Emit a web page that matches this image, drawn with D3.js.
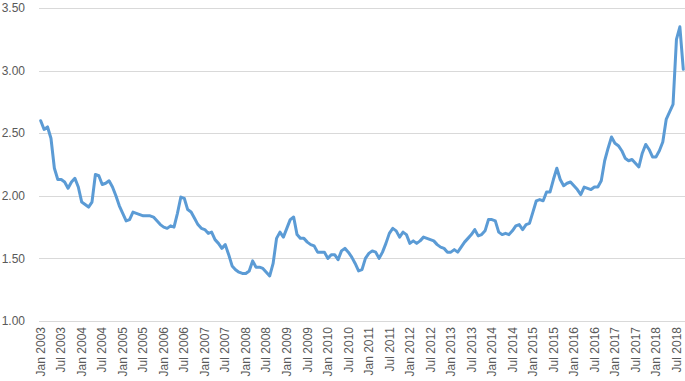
<!DOCTYPE html>
<html>
<head>
<meta charset="utf-8">
<script src="https://cdnjs.cloudflare.com/ajax/libs/d3/7.8.5/d3.min.js"></script>
<style>
  body { margin: 0; background: #fff; }
  text { font-family: "Liberation Sans", Arial, sans-serif; fill: #595959; }
</style>
</head>
<body>
<script>
// monthly values, Jan..Dec per year (2018 ends in Sep)
var y2003 = [2.60, 2.53, 2.55, 2.46, 2.22, 2.13, 2.13, 2.11, 2.06, 2.11, 2.14, 2.07];
var y2004 = [1.95, 1.93, 1.91, 1.95, 2.17, 2.16, 2.09, 2.10, 2.12, 2.07, 2.00, 1.92];
var y2005 = [1.86, 1.80, 1.81, 1.87, 1.86, 1.85, 1.84, 1.84, 1.84, 1.83, 1.80, 1.77];
var y2006 = [1.75, 1.74, 1.76, 1.75, 1.86, 1.99, 1.98, 1.89, 1.87, 1.82, 1.77, 1.74];
var y2007 = [1.73, 1.70, 1.71, 1.65, 1.62, 1.58, 1.61, 1.53, 1.44, 1.41, 1.39, 1.38];
var y2008 = [1.38, 1.40, 1.48, 1.43, 1.43, 1.42, 1.39, 1.36, 1.46, 1.66, 1.71, 1.67];
var y2009 = [1.74, 1.81, 1.83, 1.69, 1.66, 1.66, 1.63, 1.61, 1.60, 1.55, 1.55, 1.55];
var y2010 = [1.50, 1.53, 1.53, 1.49, 1.56, 1.58, 1.55, 1.51, 1.46, 1.40, 1.41, 1.50];
var y2011 = [1.54, 1.56, 1.55, 1.50, 1.55, 1.62, 1.70, 1.74, 1.72, 1.67, 1.71, 1.69];
var y2012 = [1.62, 1.64, 1.62, 1.64, 1.67, 1.66, 1.65, 1.64, 1.61, 1.59, 1.58, 1.55];
var y2013 = [1.55, 1.57, 1.55, 1.59, 1.63, 1.66, 1.69, 1.73, 1.68, 1.69, 1.72, 1.81];
var y2014 = [1.81, 1.80, 1.71, 1.69, 1.70, 1.69, 1.72, 1.76, 1.77, 1.73, 1.77, 1.78];
var y2015 = [1.87, 1.96, 1.97, 1.96, 2.03, 2.03, 2.13, 2.22, 2.13, 2.08, 2.10, 2.11];
var y2016 = [2.08, 2.05, 2.01, 2.07, 2.06, 2.05, 2.07, 2.07, 2.12, 2.28, 2.38, 2.47];
var y2017 = [2.42, 2.40, 2.36, 2.30, 2.28, 2.29, 2.26, 2.23, 2.34, 2.41, 2.37, 2.31];
var y2018 = [2.31, 2.36, 2.43, 2.61, 2.67, 2.73, 3.25, 3.35, 3.01];

var years = d3.range(2003, 2019);
var monthNames = ["Jan","Feb","Mar","Apr","May","Jun","Jul","Aug","Sep","Oct","Nov","Dec"];
var yearValues = [y2003, y2004, y2005, y2006, y2007, y2008, y2009, y2010,
                  y2011, y2012, y2013, y2014, y2015, y2016, y2017, y2018];
var yTicks = [1.00, 1.50, 2.00, 2.50, 3.00, 3.50];

var data = [];
yearValues.forEach(function(arr, k) {
  arr.forEach(function(v, m) {
    data.push({label: monthNames[m] + " " + years[k], month: m, value: v});
  });
});

var width = 685, height = 381;
var margin = {top: 8, right: 0, bottom: 60, left: 39};

var svg = d3.select("body").append("svg")
  .attr("width", width)
  .attr("height", height);

var x = d3.scaleBand()
  .domain(data.map(function(d) { return d.label; }))
  .range([margin.left, width - margin.right]);

// 1.00 sits at y=321, 3.50 at y=8
var y = d3.scaleLinear()
  .domain([1, 3.5])
  .range([321, margin.top]);

// gridlines
svg.append("g")
  .selectAll("line")
  .data(yTicks)
  .enter().append("line")
  .attr("x1", margin.left)
  .attr("x2", width)
  .attr("y1", function(d) { return Math.round(y(d)) + 0.5; })
  .attr("y2", function(d) { return Math.round(y(d)) + 0.5; })
  .attr("stroke", "#d9d9d9")
  .attr("stroke-width", 1);

// y labels
svg.append("g")
  .selectAll("text")
  .data(yTicks)
  .enter().append("text")
  .attr("x", 25)
  .attr("y", function(d) { return y(d); })
  .attr("dy", "0.35em")
  .attr("text-anchor", "end")
  .style("font-size", "12px")
  .text(function(d) { return d3.format(".2f")(d); });

// x labels every 6 months
var xLabels = data.filter(function(d) { return d.month === 0 || d.month === 6; });
svg.append("g")
  .selectAll("text")
  .data(xLabels)
  .enter().append("text")
  .attr("transform", function(d) {
    return "translate(" + (x(d.label) + x.bandwidth() / 2) + ",327) rotate(-90)";
  })
  .attr("dy", "0.35em")
  .attr("text-anchor", "end")
  .style("font-size", "12px")
  .text(function(d) { return d.label; });

// line
var line = d3.line()
  .x(function(d) { return x(d.label) + x.bandwidth() / 2; })
  .y(function(d) { return y(d.value); });

svg.append("path")
  .datum(data)
  .attr("fill", "none")
  .attr("stroke", "#5b9bd5")
  .attr("stroke-width", 3)
  .attr("stroke-linejoin", "round")
  .attr("stroke-linecap", "round")
  .attr("d", line);
</script>
</body>
</html>
